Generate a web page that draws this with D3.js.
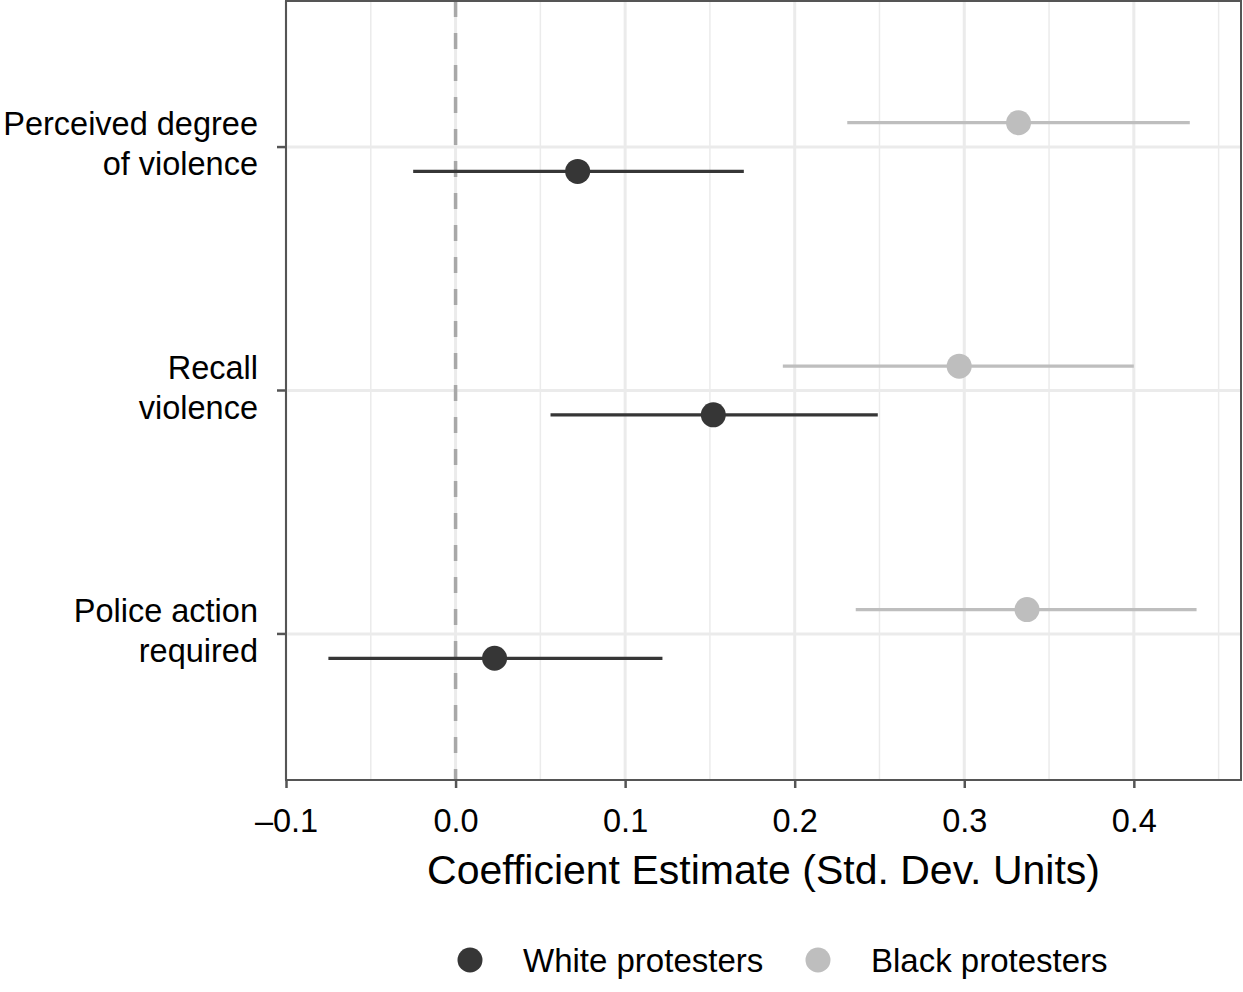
<!DOCTYPE html>
<html>
<head>
<meta charset="utf-8">
<script src="https://cdn.jsdelivr.net/npm/d3@7"></script>
<style>
  body { margin: 0; background: #fff; }
  text { font-family: "Liberation Sans", Arial, sans-serif; fill: #000; }
</style>
</head>
<body>
<div class="chart"></div>
<script>
// outcomes, top to bottom
let outcomes = ['Perceived degree of violence', 'Recall violence', 'Police action required'];
let outcomeLines = [['Perceived degree', 'of violence'], ['Recall', 'violence'], ['Police action', 'required']];
let groups = ['White protesters', 'Black protesters'];

let whiteEst = [0.072, 0.152, 0.023];
let whiteLow = [-0.025, 0.056, -0.075];
let whiteHigh = [0.170, 0.249, 0.122];

let blackEst = [0.332, 0.297, 0.337];
let blackLow = [0.231, 0.193, 0.236];
let blackHigh = [0.433, 0.400, 0.437];

let xTicks = [-0.1, 0, 0.1, 0.2, 0.3, 0.4];

let width = 1243;
let height = 992;
let panelLeft = 286, panelRight = 1241, panelTop = 1, panelBottom = 780;

let colors = { 'White protesters': '#363636', 'Black protesters': '#bebebe' };

let rows = [];
outcomes.forEach((o, i) => {
  rows.push({ outcome: o, group: groups[0], est: whiteEst[i], lo: whiteLow[i], hi: whiteHigh[i] });
  rows.push({ outcome: o, group: groups[1], est: blackEst[i], lo: blackLow[i], hi: blackHigh[i] });
});

let svg = d3.select('.chart')
  .append('svg')
  .attr('width', width)
  .attr('height', height);

let x = d3.scaleLinear().domain([-0.1, 0.4632]).range([panelLeft, panelRight]);
let y = d3.scalePoint().domain(outcomes).range([panelTop, panelBottom]).padding(0.6);
let step = y.step();
let dodge = { 'White protesters': 0.1 * step, 'Black protesters': -0.1 * step };

// minor grid
let minor = xTicks.map(t => t + 0.05);
svg.append('g').selectAll('line')
  .data(minor)
  .enter().append('line')
  .attr('x1', d => x(d)).attr('x2', d => x(d))
  .attr('y1', panelTop).attr('y2', panelBottom)
  .attr('stroke', '#ebebeb').attr('stroke-width', 1.5);

// major grid
svg.append('g').selectAll('line')
  .data(xTicks)
  .enter().append('line')
  .attr('x1', d => x(d)).attr('x2', d => x(d))
  .attr('y1', panelTop).attr('y2', panelBottom)
  .attr('stroke', '#ebebeb').attr('stroke-width', 3);
svg.append('g').selectAll('line')
  .data(outcomes)
  .enter().append('line')
  .attr('x1', panelLeft).attr('x2', panelRight)
  .attr('y1', d => y(d)).attr('y2', d => y(d))
  .attr('stroke', '#ebebeb').attr('stroke-width', 3);

// zero line
svg.append('line')
  .attr('x1', x(0)).attr('x2', x(0))
  .attr('y1', panelTop).attr('y2', panelBottom)
  .attr('stroke', '#a8a8a8').attr('stroke-width', 3.5)
  .attr('stroke-dasharray', '16,16');

// intervals
svg.append('g').selectAll('line')
  .data(rows)
  .enter().append('line')
  .attr('x1', d => x(d.lo)).attr('x2', d => x(d.hi))
  .attr('y1', d => y(d.outcome) + dodge[d.group])
  .attr('y2', d => y(d.outcome) + dodge[d.group])
  .attr('stroke', d => colors[d.group]).attr('stroke-width', 3.2);

svg.append('g').selectAll('circle')
  .data(rows)
  .enter().append('circle')
  .attr('cx', d => x(d.est))
  .attr('cy', d => y(d.outcome) + dodge[d.group])
  .attr('r', 12.5)
  .attr('fill', d => colors[d.group]);

// panel border
svg.append('rect')
  .attr('x', panelLeft).attr('y', panelTop)
  .attr('width', panelRight - panelLeft).attr('height', panelBottom - panelTop)
  .attr('fill', 'none').attr('stroke', '#555').attr('stroke-width', 2);

// x axis
let xAxis = d3.axisBottom(x)
  .tickValues(xTicks)
  .tickSize(8)
  .tickPadding(0)
  .tickFormat(d => d < 0 ? '\u2013' + Math.abs(d).toFixed(1) : d.toFixed(1));
let gx = svg.append('g')
  .attr('transform', 'translate(0,' + panelBottom + ')')
  .call(xAxis);
gx.select('.domain').remove();
gx.selectAll('line').attr('stroke', '#555').attr('stroke-width', 2.5);
gx.selectAll('text')
  .style('font-size', '32.5px')
  .attr('fill', '#000')
  .attr('y', 52)
  .attr('dy', null);

// y axis ticks and labels
let gy = svg.append('g');
gy.selectAll('line')
  .data(outcomes)
  .enter().append('line')
  .attr('x1', panelLeft - 9).attr('x2', panelLeft)
  .attr('y1', d => y(d)).attr('y2', d => y(d))
  .attr('stroke', '#555').attr('stroke-width', 2.5);
gy.selectAll('text')
  .data(outcomes)
  .enter().append('text')
  .attr('x', 258)
  .attr('y', d => y(d))
  .attr('text-anchor', 'end')
  .style('font-size', '32.5px')
  .each(function (d, i) {
    let t = d3.select(this);
    t.append('tspan').attr('x', 258).attr('dy', -12).text(outcomeLines[i][0]);
    t.append('tspan').attr('x', 258).attr('dy', 40).text(outcomeLines[i][1]);
  });

// axis title
svg.append('text')
  .attr('x', (panelLeft + panelRight) / 2)
  .attr('y', 884)
  .attr('text-anchor', 'middle')
  .style('font-size', '41px')
  .text('Coefficient Estimate (Std. Dev. Units)');

// legend
let legendX = [470, 818];
let leg = svg.append('g').selectAll('g')
  .data(groups)
  .enter().append('g')
  .attr('transform', (d, i) => 'translate(' + legendX[i] + ',960)');
leg.append('circle').attr('r', 12.5).attr('fill', d => colors[d]);
leg.append('text')
  .attr('x', 53).attr('y', 12)
  .style('font-size', '33px')
  .text(d => d);
</script>
</body>
</html>
